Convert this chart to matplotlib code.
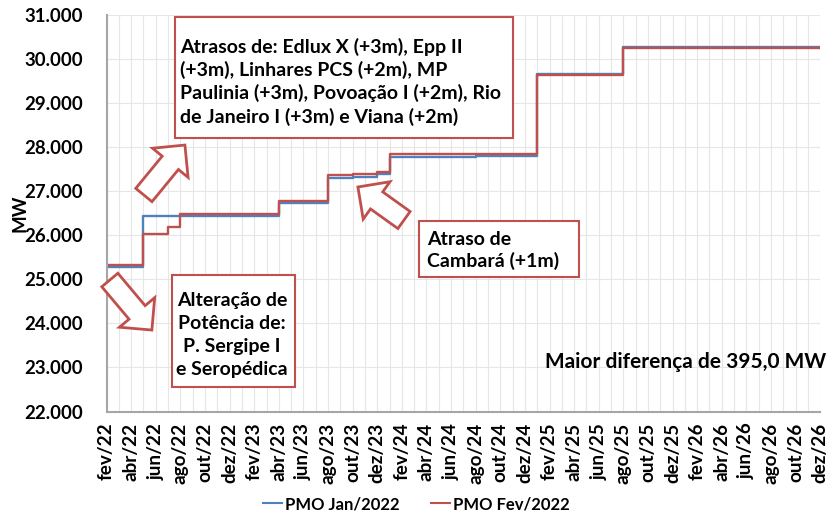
import numpy as np
import matplotlib
matplotlib.use('Agg')
import matplotlib.pyplot as plt
from matplotlib.patches import Rectangle, Polygon
from matplotlib.transforms import IdentityTransform
from matplotlib.ticker import FuncFormatter, MultipleLocator

plt.rcParams['font.family'] = ['Lato', 'DejaVu Sans']
plt.rcParams['font.weight'] = 'bold'

# meses fev/22 .. dez/26
meses_pt = ['jan', 'fev', 'mar', 'abr', 'mai', 'jun', 'jul', 'ago', 'set', 'out', 'nov', 'dez']
meses = []
for k in range(59):
    m = (1 + k) % 12
    a = 22 + (1 + k) // 12
    meses.append(meses_pt[m] + '/' + str(a))

# valores mensais (MW)
pmo_jan = ([25270] * 3 + [26440] * 11 + [26740] * 4 + [27300] * 2 + [27330] * 2
           + [27390] * 1 + [27780] * 7 + [27805] * 5 + [29650] * 7 + [30265] * 17)
pmo_fev = ([25320] * 3 + [26035] * 2 + [26195] * 1 + [26480] * 8 + [26770] * 4
           + [27360] * 2 + [27390] * 2 + [27440] * 1 + [27835] * 12 + [29630] * 7
           + [30240] * 17)

cor_azul = '#4F81BD'
cor_verm = '#C0504D'

fig = plt.figure(figsize=(8.26, 5.17), dpi=100)
ax = fig.add_axes([0.129, 0.204, 0.864, 0.767])

x = np.arange(len(meses))
ax.plot(x, pmo_jan, drawstyle='steps-post', color=cor_azul, lw=1.7, label='PMO Jan/2022')
ax.plot(x, pmo_fev, drawstyle='steps-post', color=cor_verm, lw=1.7, label='PMO Fev/2022')

ax.set_xlim(0, len(meses) - 1)
ax.set_ylim(22000, 31000)
ax.yaxis.set_major_locator(MultipleLocator(1000))
ax.yaxis.set_major_formatter(FuncFormatter(lambda v, p: '{:,.0f}'.format(v).replace(',', '.')))
ax.set_xticks(x[::2])
ax.set_xticklabels(meses[::2], rotation=90, fontsize=13.6, fontweight='bold')
ax.set_xticks(x, minor=True)
ax.tick_params(axis='y', labelsize=13.4, length=0, pad=17)
ax.tick_params(axis='x', which='both', length=0, pad=8)
ax.grid(True, which='both', axis='x', color='#E6E6E6', lw=0.8)
ax.grid(True, which='major', axis='y', color='#E6E6E6', lw=0.8)
ax.set_axisbelow(True)
for s in ['top', 'right']:
    ax.spines[s].set_visible(False)
for s in ['left', 'bottom']:
    ax.spines[s].set_color('#A6A6A6')
    ax.spines[s].set_linewidth(1.5)
ax.set_ylabel('MW', fontsize=13.5, fontweight='bold')
ax.yaxis.set_label_coords(-0.11, 0.5)

fs = 14
# caixas de anotação
caixas = [(0.0958, 0.690, 0.474, 0.304), (0.0916, 0.062, 0.1724, 0.282), (0.438, 0.339, 0.224, 0.141)]
for (x0, y0, w, h) in caixas:
    ax.add_patch(Rectangle((x0, y0), w, h, transform=ax.transAxes, facecolor='white',
                           edgecolor=cor_verm, lw=1.5, zorder=5))

for t, yy in zip(['Atrasos de: Edlux X (+3m), Epp II', '(+3m), Linhares PCS (+2m), MP',
                  'Paulinia (+3m), Povoação I (+2m), Rio', 'de Janeiro I (+3m) e Viana (+2m)'],
                 [0.9185, 0.861, 0.8025, 0.744]):
    ax.text(0.1028, yy, t, transform=ax.transAxes, fontsize=fs, fontweight='bold', va='center', zorder=6)

for t, yy in zip(['Alteração de', 'Potência de:', 'P. Sergipe I', 'e Seropédica'],
                 [0.281, 0.223, 0.163, 0.105]):
    ax.text(0.1757, yy, t, transform=ax.transAxes, fontsize=fs, fontweight='bold', va='center',
            ha='center', zorder=6)

for t, yy in zip(['Atraso de', 'Cambará (+1m)'], [0.435, 0.379]):
    ax.text(0.449, yy, t, transform=ax.transAxes, fontsize=fs, fontweight='bold', va='center', zorder=6)

ax.text(0.615, 0.1256, 'Maior diferença de 395,0 MW', transform=ax.transAxes, fontsize=15,
        fontweight='bold', va='center', zorder=6)


# setas em bloco (largura em pixels)
def seta(p0, p1, haste=21, cab_larg=46, cab_comp=23):
    a = ax.transAxes.transform(p0)
    b = ax.transAxes.transform(p1)
    u = (b - a) / np.hypot(*(b - a))
    n = np.array([-u[1], u[0]])
    base = b - u * cab_comp
    verts = [a + n * haste / 2, base + n * haste / 2, base + n * cab_larg / 2, b,
             base - n * cab_larg / 2, base - n * haste / 2, a - n * haste / 2]
    fig.add_artist(Polygon(verts, closed=True, transform=IdentityTransform(), facecolor='white',
                           edgecolor=cor_verm, lw=2.0, joinstyle='miter', zorder=6))


seta((0.0523, 0.546), (0.1098, 0.672))
seta((0.0046, 0.3317), (0.0635, 0.2055))
seta((0.4168, 0.4829), (0.3522, 0.5662))

leg = fig.legend(loc='center', ncol=2, frameon=False, prop={'size': 12, 'weight': 'bold'},
                 handlelength=1.15, handletextpad=0.15, columnspacing=1.9,
                 bbox_to_anchor=(0.504, 0.025))
for line in leg.get_lines():
    line.set_linewidth(1.5)

fig.savefig('out.png', dpi=100)
